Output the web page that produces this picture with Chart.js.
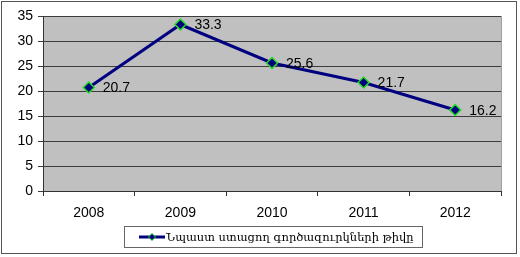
<!DOCTYPE html>
<html>
<head>
<meta charset="utf-8">
<script src="https://cdn.jsdelivr.net/npm/chart.js@4"></script>
<style>
	html, body { margin: 0; padding: 0; background: #fff; }
	#wrap { width: 520px; height: 257px; }
</style>
</head>
<body>
<div id="wrap"><canvas id="chart" width="520" height="257"></canvas></div>
<script>
const years = ['2008', '2009', '2010', '2011', '2012'];
const unemployed = [20.7, 33.3, 25.6, 21.7, 16.2];
const seriesLabel = 'Նպաստ ստացող գործազուրկների թիվը';
const yTicks = [0, 5, 10, 15, 20, 25, 30, 35];

const navy = '#000080';
const green = '#22dd22';
const sans = '"Liberation Sans", Arial, sans-serif';

// frame, plot background, value labels and boxed legend
const decor = {
	id: 'decor',
	beforeDraw(chart) {
		const { ctx, chartArea: a } = chart;
		ctx.save();
		ctx.fillStyle = '#c0c0c0';
		ctx.fillRect(a.left, a.top, a.right - a.left, a.bottom - a.top);
		ctx.strokeStyle = '#555';
		ctx.lineWidth = 1;
		ctx.strokeRect(1.5, 1.5, chart.width - 5, chart.height - 5);
		ctx.strokeStyle = '#a0a0a0';
		ctx.beginPath();
		ctx.moveTo(a.right + 0.5, a.top);
		ctx.lineTo(a.right + 0.5, a.bottom);
		ctx.stroke();
		ctx.restore();
	},
	afterDatasetsDraw(chart) {
		const { ctx } = chart;
		const meta = chart.getDatasetMeta(0);
		ctx.save();
		ctx.font = '14px ' + sans;
		ctx.fillStyle = '#000';
		ctx.textBaseline = 'middle';
		meta.data.forEach((pt, i) => {
			ctx.fillText(String(unemployed[i]), pt.x + 14, pt.y + 1);
		});

		// legend
		const bx = 124.5, by = 226.5, bw = 298, bh = 21;
		ctx.fillStyle = '#fff';
		ctx.fillRect(bx, by, bw, bh);
		ctx.strokeStyle = '#666';
		ctx.lineWidth = 1;
		ctx.strokeRect(bx, by, bw, bh);
		const ly = by + bh / 2;
		ctx.strokeStyle = navy;
		ctx.lineWidth = 3;
		ctx.beginPath();
		ctx.moveTo(139, ly);
		ctx.lineTo(165, ly);
		ctx.stroke();
		ctx.fillStyle = navy;
		ctx.strokeStyle = green;
		ctx.lineWidth = 1;
		ctx.beginPath();
		ctx.moveTo(152, ly - 3.5);
		ctx.lineTo(155.5, ly);
		ctx.lineTo(152, ly + 3.5);
		ctx.lineTo(148.5, ly);
		ctx.closePath();
		ctx.fill();
		ctx.stroke();
		ctx.fillStyle = '#000';
		ctx.font = '11.5px "DejaVu Serif", "Liberation Serif", serif';
		ctx.textBaseline = 'middle';
		ctx.fillText(seriesLabel, 166, ly + 1);
		ctx.restore();
	}
};

new Chart(document.getElementById('chart'), {
	type: 'line',
	data: {
		labels: years,
		datasets: [{
			label: seriesLabel,
			data: unemployed,
			borderColor: navy,
			borderWidth: 3,
			pointStyle: 'rectRot',
			pointRadius: 5.5,
			pointBackgroundColor: navy,
			pointBorderColor: green,
			pointBorderWidth: 1.5,
			tension: 0
		}]
	},
	options: {
		responsive: false,
		animation: false,
		layout: { padding: { top: 16, right: 19, left: 0, bottom: 0 } },
		plugins: { legend: { display: false }, tooltip: { enabled: false } },
		scales: {
			x: {
				offset: true,
				afterFit: s => { s.height = 66; },
				grid: { offset: true, drawOnChartArea: false, tickLength: 5, color: '#333' },
				border: { color: '#333', width: 1 },
				ticks: {
					color: '#000',
					padding: 9,
					font: { family: sans, size: 14 }
				}
			},
			y: {
				min: 0,
				max: 35,
				afterFit: s => { s.width = 43; },
				afterBuildTicks: s => { s.ticks = yTicks.map(v => ({ value: v })); },
				grid: { color: '#3c3c3c', lineWidth: 1, tickLength: 5 },
				border: { color: '#333', width: 1 },
				ticks: {
					color: '#000',
					padding: 5,
					font: { family: sans, size: 14 }
				}
			}
		}
	},
	plugins: [decor]
});
</script>
</body>
</html>
